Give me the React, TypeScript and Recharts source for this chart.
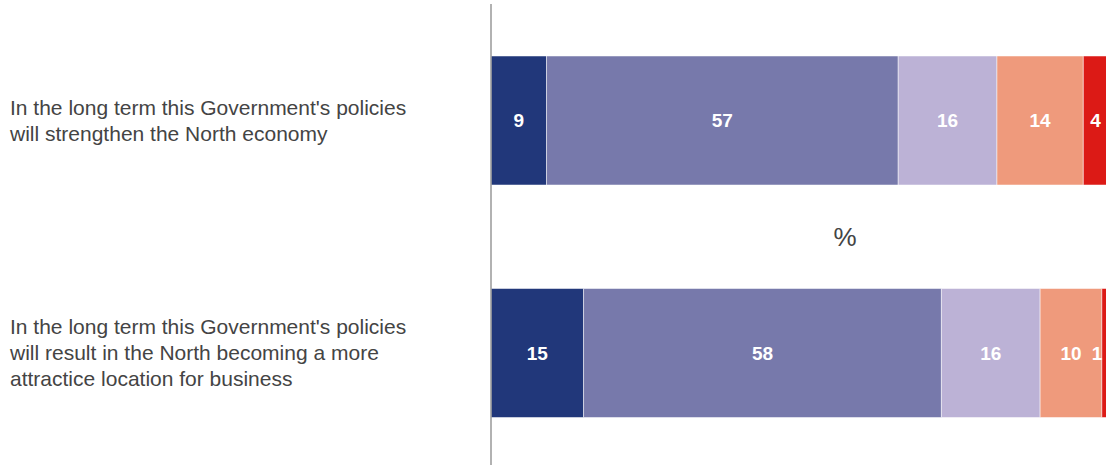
import React from 'react';
import { BarChart, Bar, XAxis, YAxis, LabelList } from 'recharts';

const statements = [
  "In the long term this Government's policies|will strengthen the North economy",
  "In the long term this Government's policies|will result in the North becoming a more|attractice location for business",
];
const stronglyAgree = [9, 15];
const agree = [57, 58];
const neither = [16, 16];
const disagree = [14, 10];
const stronglyDisagree = [4, 1];

const SERIES = [
  { key: 'stronglyAgree', color: '#21377a' },
  { key: 'agree', color: '#7779ab' },
  { key: 'neither', color: '#bcb2d6' },
  { key: 'disagree', color: '#ef9a7c' },
  { key: 'stronglyDisagree', color: '#dc1a16' },
];

const data = statements.map((s, i) => ({
  name: s,
  stronglyAgree: stronglyAgree[i],
  agree: agree[i],
  neither: neither[i],
  disagree: disagree[i],
  stronglyDisagree: stronglyDisagree[i],
}));

const FONT = '"Liberation Sans", Arial, Helvetica, sans-serif';
const VISIBLE_RIGHT = 1106;

function CategoryTick({ y, payload }: any) {
  const lines = String(payload.value).split('|');
  const lh = 26;
  const start = y - ((lines.length - 1) * lh) / 2;
  return (
    <text x={10} y={start} fill="#444" fontSize={21} fontFamily={FONT} textAnchor="start">
      {lines.map((l, i) => (
        <tspan key={i} x={10} y={start + i * lh} dominantBaseline="central">
          {l}
        </tspan>
      ))}
    </text>
  );
}

function SegmentLabel({ x, y, width, height, value }: any) {
  let cx = x + width / 2;
  if (cx > VISIBLE_RIGHT - 9) cx = VISIBLE_RIGHT - 9;
  return (
    <text
      x={cx}
      y={y + height / 2}
      fill="#fff"
      fontSize={19}
      fontWeight="bold"
      fontFamily={FONT}
      textAnchor="middle"
      dominantBaseline="central"
    >
      {value}
    </text>
  );
}

export default function App() {
  return (
    <div
      style={{
        position: 'absolute',
        left: 0,
        top: 0,
        width: 1106,
        height: 465,
        overflow: 'hidden',
        background: '#fff',
      }}
    >
      <BarChart
        width={1112}
        height={470}
        data={data}
        layout="vertical"
        margin={{ top: 4, right: 4, bottom: 1, left: 0 }}
        barCategoryGap={0}
      >
        <XAxis type="number" domain={[0, 100]} hide />
        <YAxis
          type="category"
          dataKey="name"
          width={491}
          axisLine={{ stroke: '#999', strokeWidth: 1.5 }}
          tickLine={false}
          tick={<CategoryTick />}
        />
        {SERIES.map((s) => (
          <Bar
            key={s.key}
            dataKey={s.key}
            stackId="a"
            fill={s.color}
            barSize={129}
            stroke="#fff"
            strokeWidth={0.5}
            isAnimationActive={false}
          >
            <LabelList dataKey={s.key} content={<SegmentLabel />} />
          </Bar>
        ))}
      </BarChart>
      <div
        style={{
          position: 'absolute',
          left: 845,
          top: 237,
          transform: 'translate(-50%, -50%)',
          fontFamily: FONT,
          fontSize: 26,
          color: '#444',
        }}
      >
        %
      </div>
    </div>
  );
}
